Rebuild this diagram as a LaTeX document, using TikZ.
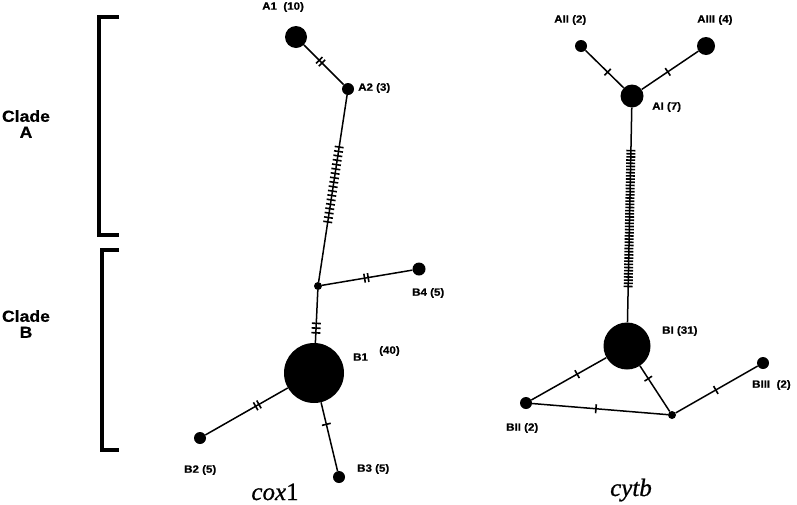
\documentclass[tikz,border=0pt]{standalone}
\usepackage{fontspec}
\setmainfont{Liberation Serif}
\newfontfamily\lblfont[FakeStretch=1.1,FakeBold=0.6]{Liberation Sans Bold}
\newfontfamily\genefont[FakeBold=0.8]{Liberation Serif}
\newcommand\tickrun[5]{%
  \foreach \k in {1,...,#3}{%
    \pgfmathsetmacro\pp{#4+(#5-#4)*(\k-1)/max(#3-1,1)}%
    \path (#1) -- (#2) node[tick,pos=\pp]{};
  }}
\tikzset{
  hap/.style={circle,fill=black,inner sep=0pt,minimum size=#1},
  link/.style={line width=1.5pt},
  tick/.style={sloped,fill=black,inner sep=0pt,minimum width=1.6pt,minimum height=9pt,rectangle},
  lbl/.style={font=\lblfont\fontsize{10.5}{12}\selectfont,inner sep=0pt,anchor=west},
  clade/.style={font=\lblfont\fontsize{16}{18}\selectfont,align=center,inner sep=0pt},
  gene/.style={font=\genefont\fontsize{25}{28}\selectfont,inner sep=0pt,anchor=base},
  bracket/.style={line width=3.5pt,miter limit=10}
}
\begin{document}
\begin{tikzpicture}[x=1pt,y=-1pt]
\useasboundingbox (0,0) rectangle (797,504);
% brackets
\draw[bracket] (119,17) -- (99,17) -- (99,235) -- (119,235);
\draw[bracket] (119,250) -- (102,250) -- (102,450) -- (119,450);
\node[clade] (cA) at (26,124) {Clade\\[-2pt]A};
\node[clade] (cB) at (26,324) {Clade\\[-2pt]B};
% cox1 network
\node[hap=22pt] (A1) at (296,37) {};
\node[hap=12pt] (A2) at (348,89) {};
\node[hap=8pt] (M) at (318,286) {};
\node[hap=13pt] (B4) at (419,269) {};
\node[hap=60pt] (B1) at (314,373) {};
\node[hap=12pt] (B2) at (200,438) {};
\node[hap=12pt] (B3) at (339,477) {};
\draw[link] (A1) -- (A2);
\draw[link] (A2) -- (M);
\draw[link] (M) -- (B4);
\draw[link] (M) -- (B1);
\draw[link] (B1) -- (B2);
\draw[link] (B1) -- (B3);
\tickrun{A1}{A2}{2}{0.385}{0.455}
\tickrun{A2}{M}{18}{0.278}{0.679}
\tickrun{M}{B4}{2}{0.47}{0.51}
\tickrun{M}{B1}{3}{0.63}{0.81}
\tickrun{B1}{B2}{2}{0.35}{0.39}
\tickrun{B1}{B3}{1}{0.32}{0.32}
\node[lbl] (lA1) at (262,7) {A1\ \ (10)};
\node[lbl] (lA2) at (358,88) {A2 (3)};
\node[lbl] (lB4) at (412,293) {B4 (5)};
\node[lbl] (lB1) at (353,357) {B1};
\node[lbl] (lB1n) at (379,351) {(40)};
\node[lbl] (lB2) at (184,470) {B2 (5)};
\node[lbl] (lB3) at (357,469) {B3 (5)};
\node[gene] (g1) at (275,500) {\textit{cox}1};
% cytb network
\node[hap=12pt] (AII) at (581,46) {};
\node[hap=18pt] (AIII) at (706,46) {};
\node[hap=23pt] (AI) at (632,96) {};
\node[hap=47pt] (BI) at (627,346) {};
\node[hap=12pt] (BII) at (526,403) {};
\node[hap=8pt] (N) at (672,415) {};
\node[hap=12pt] (BIII) at (763,363) {};
\draw[link] (AII) -- (AI);
\draw[link] (AI) -- (AIII);
\draw[link] (AI) -- (BI);
\draw[link] (BI) -- (BII);
\draw[link] (BII) -- (N);
\draw[link] (BI) -- (N);
\draw[link] (N) -- (BIII);
\tickrun{AII}{AI}{1}{0.58}{0.58}
\tickrun{AI}{AIII}{1}{0.46}{0.46}
\tickrun{AI}{BI}{44}{0.2}{0.833}
\tickrun{BI}{BII}{1}{0.39}{0.39}
\tickrun{BII}{N}{1}{0.47}{0.47}
\tickrun{BI}{N}{1}{0.28}{0.28}
\tickrun{N}{BIII}{1}{0.49}{0.49}
\node[lbl] (lAII) at (554,20) {AII (2)};
\node[lbl] (lAIII) at (697,20) {AIII (4)};
\node[lbl] (lAI) at (652,107) {AI (7)};
\node[lbl] (lBI) at (662,331) {BI (31)};
\node[lbl] (lBII) at (506,428) {BII (2)};
\node[lbl] (lBIII) at (752,385) {BIII\ \ (2)};
\node[gene] (g2) at (631,496) {\textit{cytb}};
\end{tikzpicture}
\end{document}
